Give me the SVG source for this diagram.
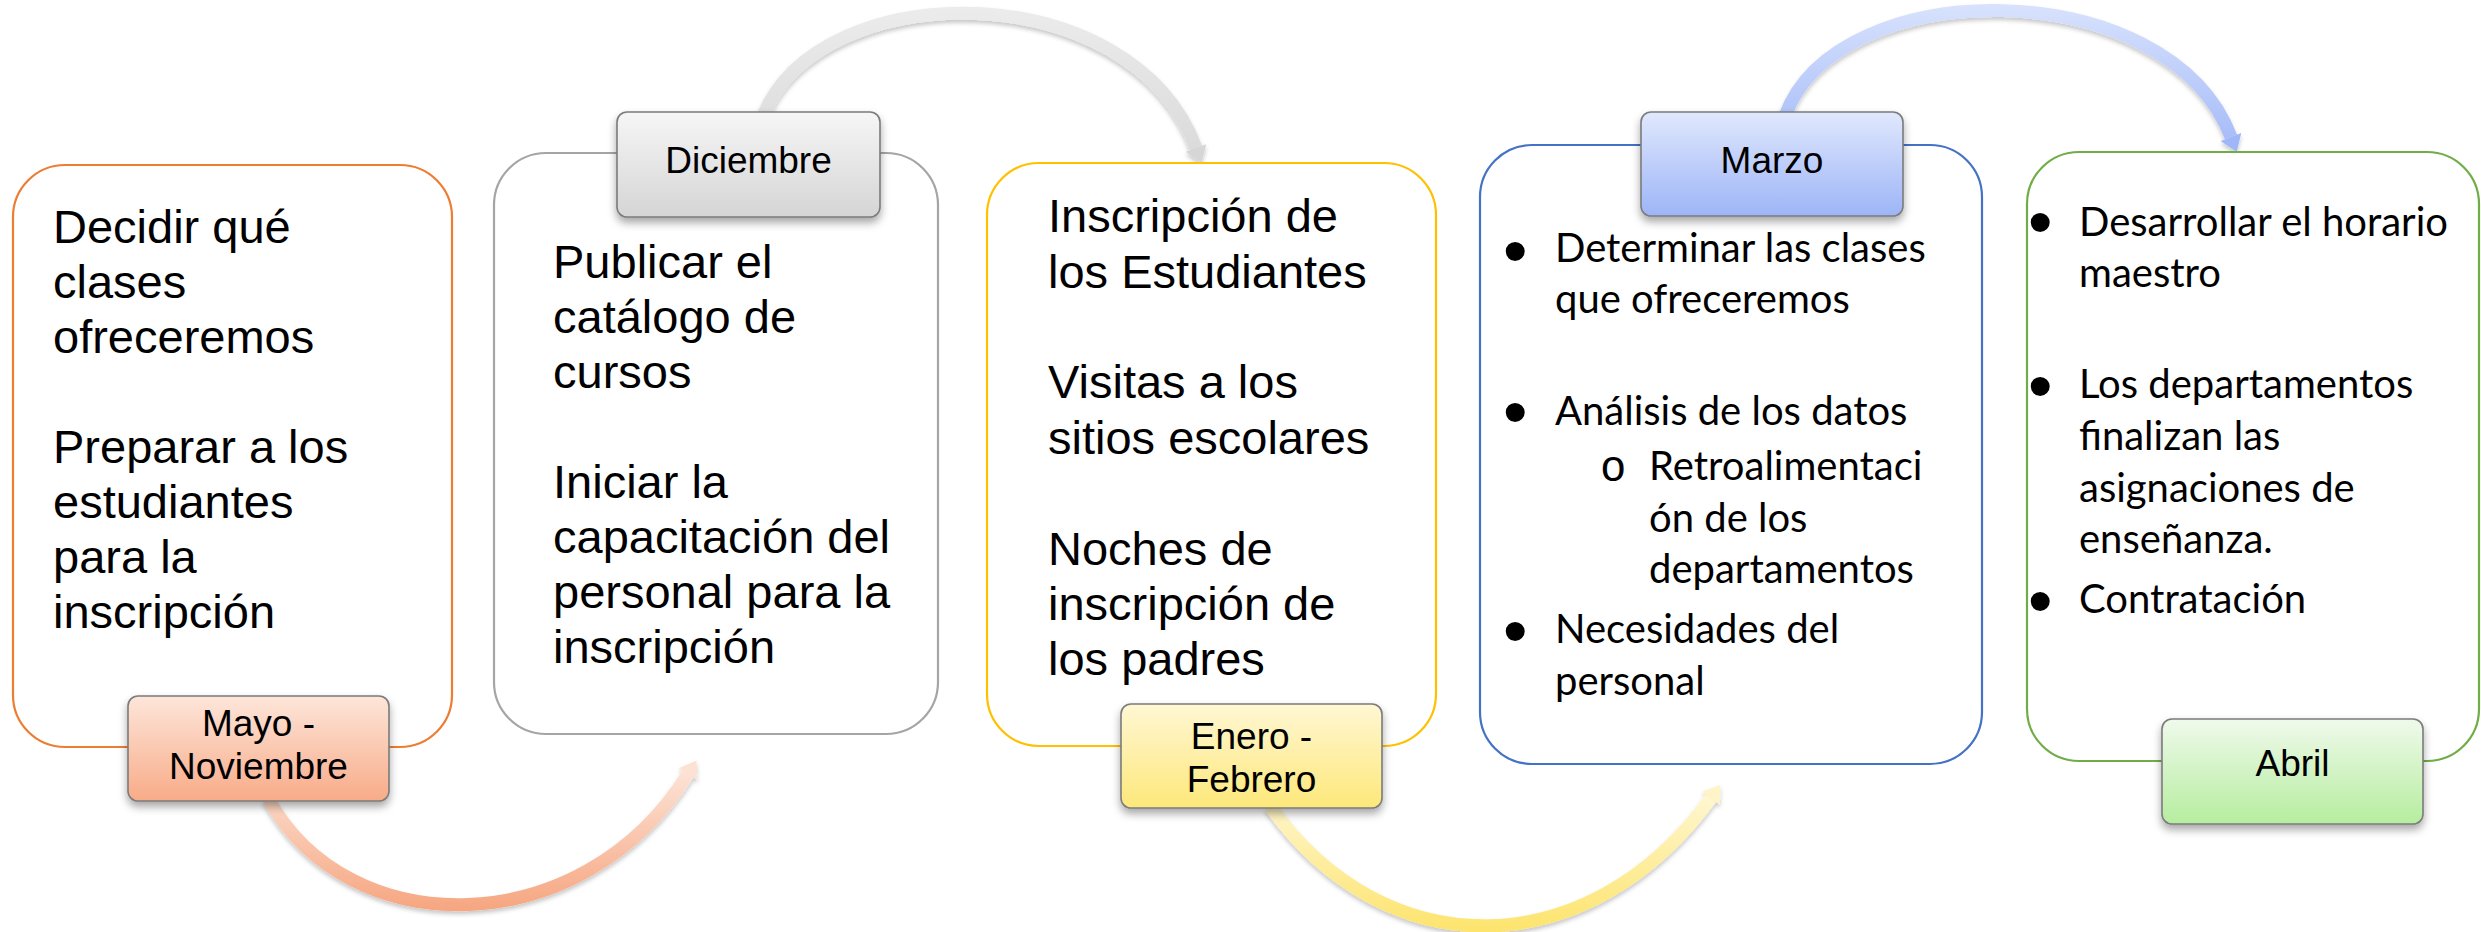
<svg xmlns="http://www.w3.org/2000/svg" width="2481" height="932" viewBox="0 0 2481 932">
<defs>
<style>
.box{fill:#ffffff;stroke-width:2.2}
.lbl{stroke:#7b7b7b;stroke-width:1.6;filter:url(#lshadow)}
.body{font-family:"Liberation Sans",Arial,sans-serif;font-size:47px;fill:#000}
.cal{font-family:Lato,"Open Sans",sans-serif;font-size:40px;fill:#000}
.bul{font-family:"Liberation Sans",Arial,sans-serif;font-size:70px;fill:#000}
.sub{font-family:"Liberation Mono","Courier New",monospace;font-size:44px;fill:#000}
.lt{font-family:"Liberation Sans",Arial,sans-serif;font-size:37px;fill:#000;text-anchor:middle}
.arc{fill:none;stroke-width:13;filter:url(#ashadow)}
</style>
<filter id="lshadow" x="-20%" y="-20%" width="140%" height="150%">
<feDropShadow dx="0" dy="5" stdDeviation="4" flood-color="#000" flood-opacity="0.35"/>
</filter>
<filter id="ashadow" x="-10%" y="-10%" width="120%" height="130%">
<feDropShadow dx="0" dy="3" stdDeviation="2" flood-color="#000" flood-opacity="0.22"/>
</filter>
<linearGradient id="gOr" x1="0" y1="0" x2="0" y2="1"><stop offset="0" stop-color="#fde6da"/><stop offset="1" stop-color="#f8ab88"/></linearGradient>
<linearGradient id="gGr" x1="0" y1="0" x2="0" y2="1"><stop offset="0" stop-color="#f6f6f6"/><stop offset="1" stop-color="#d5d5d5"/></linearGradient>
<linearGradient id="gYe" x1="0" y1="0" x2="0" y2="1"><stop offset="0" stop-color="#fff7d4"/><stop offset="1" stop-color="#fde87a"/></linearGradient>
<linearGradient id="gBl" x1="0" y1="0" x2="0" y2="1"><stop offset="0" stop-color="#e0e8fd"/><stop offset="1" stop-color="#9db5f7"/></linearGradient>
<linearGradient id="gGn" x1="0" y1="0" x2="0" y2="1"><stop offset="0" stop-color="#effaeb"/><stop offset="1" stop-color="#b6ed9f"/></linearGradient>
<linearGradient id="aGr" gradientUnits="userSpaceOnUse" x1="0" y1="5" x2="0" y2="165"><stop offset="0" stop-color="#ececec"/><stop offset="1" stop-color="#d9d9d9"/></linearGradient>
<linearGradient id="aOr" gradientUnits="userSpaceOnUse" x1="0" y1="760" x2="0" y2="912"><stop offset="0" stop-color="#fde8dd"/><stop offset="1" stop-color="#f6a57f"/></linearGradient>
<linearGradient id="aYe" gradientUnits="userSpaceOnUse" x1="0" y1="785" x2="0" y2="932"><stop offset="0" stop-color="#fff8d8"/><stop offset="1" stop-color="#fde46c"/></linearGradient>
<linearGradient id="aBl" gradientUnits="userSpaceOnUse" x1="0" y1="5" x2="0" y2="155"><stop offset="0" stop-color="#d8e2fd"/><stop offset="1" stop-color="#a2b9f8"/></linearGradient>
<marker id="mGr" markerUnits="userSpaceOnUse" markerWidth="20" markerHeight="24" refX="0" refY="11" orient="auto" overflow="visible"><path d="M0,0 L16,11 L0,22 z" fill="#d6d6d6"/></marker>
<marker id="mOr" markerUnits="userSpaceOnUse" markerWidth="20" markerHeight="24" refX="0" refY="11" orient="auto" overflow="visible"><path d="M0,0 L16,11 L0,22 z" fill="#fde2d4"/></marker>
<marker id="mYe" markerUnits="userSpaceOnUse" markerWidth="20" markerHeight="24" refX="0" refY="11" orient="auto" overflow="visible"><path d="M0,0 L16,11 L0,22 z" fill="#fff4c8"/></marker>
<marker id="mBl" markerUnits="userSpaceOnUse" markerWidth="20" markerHeight="24" refX="0" refY="11" orient="auto" overflow="visible"><path d="M0,0 L16,11 L0,22 z" fill="#9fb7f8"/></marker>
</defs>
<rect x="0" y="0" width="2481" height="932" fill="#ffffff"/>

<g id="connectors">
<path class="arc" stroke="url(#aGr)" marker-end="url(#mGr)" d="M763,116 C820,-26 1132,-26 1196,148"/>
<path class="arc" stroke="url(#aOr)" marker-end="url(#mOr)" d="M268,798 C347,944 582,944 688,774"/>
<path class="arc" stroke="url(#aYe)" marker-end="url(#mYe)" d="M1270,806 C1384,967 1588,967 1711,798"/>
<path class="arc" stroke="url(#aBl)" marker-end="url(#mBl)" d="M1785,116 C1837,-28 2168,-28 2231,137"/>
</g>

<g id="node-mayo-noviembre">
<rect class="box" x="13" y="165" width="439" height="582" rx="52" ry="52" stroke="#ED7D31"/>
<text class="body"><tspan x="53" y="243">Decidir qué</tspan><tspan x="53" y="298">clases</tspan><tspan x="53" y="353">ofreceremos</tspan><tspan x="53" y="463">Preparar a los</tspan><tspan x="53" y="518">estudiantes</tspan><tspan x="53" y="573">para la</tspan><tspan x="53" y="628">inscripción</tspan></text>
<rect class="lbl" x="128" y="696" width="261" height="105" rx="10" ry="10" fill="url(#gOr)"/>
<text class="lt"><tspan x="258.5" y="736">Mayo -</tspan><tspan x="258.5" y="779">Noviembre</tspan></text>
</g>

<g id="node-diciembre">
<rect class="box" x="494" y="153" width="444" height="581" rx="52" ry="52" stroke="#A5A5A5"/>
<text class="body"><tspan x="553" y="278">Publicar el</tspan><tspan x="553" y="333">catálogo de</tspan><tspan x="553" y="388">cursos</tspan><tspan x="553" y="498">Iniciar la</tspan><tspan x="553" y="553">capacitación del</tspan><tspan x="553" y="608">personal para la</tspan><tspan x="553" y="663">inscripción</tspan></text>
<rect class="lbl" x="617" y="112" width="263" height="105" rx="10" ry="10" fill="url(#gGr)"/>
<text class="lt" x="748.5" y="173">Diciembre</text>
</g>

<g id="node-enero-febrero">
<rect class="box" x="987" y="163" width="449" height="583" rx="52" ry="52" stroke="#FFC000"/>
<text class="body"><tspan x="1048" y="232">Inscripción de</tspan><tspan x="1048" y="288">los Estudiantes</tspan><tspan x="1048" y="398">Visitas a los</tspan><tspan x="1048" y="454">sitios escolares</tspan><tspan x="1048" y="565">Noches de</tspan><tspan x="1048" y="620">inscripción de</tspan><tspan x="1048" y="675">los padres</tspan></text>
<rect class="lbl" x="1121" y="704" width="261" height="104" rx="10" ry="10" fill="url(#gYe)"/>
<text class="lt"><tspan x="1251.5" y="749">Enero -</tspan><tspan x="1251.5" y="792">Febrero</tspan></text>
</g>

<g id="node-marzo">
<rect class="box" x="1480" y="145" width="502" height="619" rx="52" ry="52" stroke="#4472C4"/>
<text class="bul"><tspan x="1503" y="275">•</tspan><tspan x="1503" y="436">•</tspan><tspan x="1503" y="655">•</tspan></text>
<text class="sub" x="1600" y="481">o</text>
<text class="cal"><tspan x="1555" y="262">Determinar las clases</tspan><tspan x="1555" y="313">que ofreceremos</tspan><tspan x="1555" y="425">Análisis de los datos</tspan><tspan x="1649" y="480">Retroalimentaci</tspan><tspan x="1649" y="532">ón de los</tspan><tspan x="1649" y="583">departamentos</tspan><tspan x="1555" y="643">Necesidades del</tspan><tspan x="1555" y="695">personal</tspan></text>
<rect class="lbl" x="1641" y="112" width="262" height="104" rx="10" ry="10" fill="url(#gBl)"/>
<text class="lt" x="1772" y="173">Marzo</text>
</g>

<g id="node-abril">
<rect class="box" x="2027" y="152" width="452" height="609" rx="52" ry="52" stroke="#70AD47"/>
<text class="bul"><tspan x="2028" y="246">•</tspan><tspan x="2028" y="410">•</tspan><tspan x="2028" y="625">•</tspan></text>
<text class="cal"><tspan x="2079" y="236">Desarrollar el horario</tspan><tspan x="2079" y="287">maestro</tspan><tspan x="2079" y="398">Los departamentos</tspan><tspan x="2079" y="450">finalizan las</tspan><tspan x="2079" y="502">asignaciones de</tspan><tspan x="2079" y="553">enseñanza.</tspan><tspan x="2079" y="613">Contratación</tspan></text>
<rect class="lbl" x="2162" y="719" width="261" height="105" rx="10" ry="10" fill="url(#gGn)"/>
<text class="lt" x="2292.5" y="776">Abril</text>
</g>
</svg>
